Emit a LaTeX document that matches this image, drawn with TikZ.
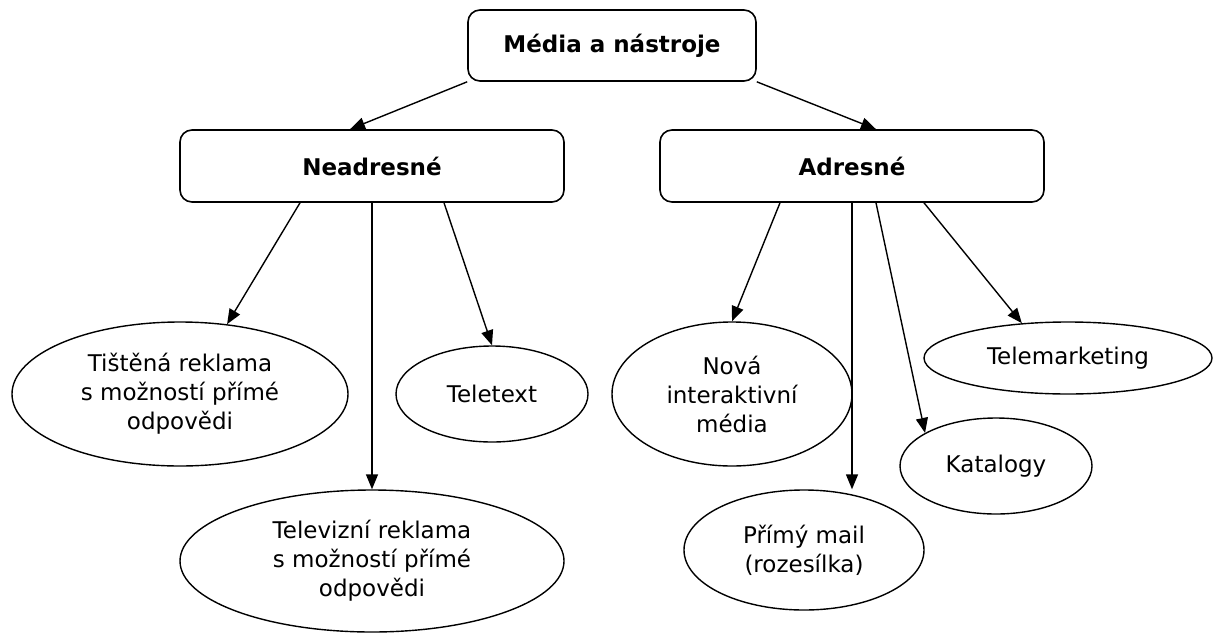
\documentclass[tikz,border=0pt]{standalone}
\usepackage{fontspec}
\setmainfont{DejaVu Sans}
\usetikzlibrary{arrows.meta,shapes.geometric}

\begin{document}
\begin{tikzpicture}[x=1pt,y=-1pt,
  every node/.style={inner sep=0pt,font=\fontsize{23}{29}\selectfont,align=center},
  box/.style={draw,line width=1.6pt,rounded corners=12pt,font=\fontsize{23}{29}\selectfont\bfseries},
  oval/.style={draw,ellipse,line width=1.4pt},
  link/.style={line width=1.4pt,-{Triangle[length=15pt,width=12pt]}}]
\useasboundingbox (0,0) rectangle (1215,632);
\node [box,minimum width=288pt,minimum height=71pt] (root) at (612,45.5) {Média a nástroje};
\node [box,minimum width=384pt,minimum height=72pt] (nead) at (372,166) {Neadresné};
\node [box,minimum width=384pt,minimum height=72pt] (adr) at (852,166) {Adresné};
\node [oval,minimum width=336pt,minimum height=144pt] (tisk) at (180,394) {Tištěná reklama\\s možností přímé\\odpovědi};
\node [oval,minimum width=192pt,minimum height=96pt] (ttx) at (492,394) {Teletext};
\node [oval,minimum width=384pt,minimum height=142pt] (tv) at (372,561) {Televizní reklama\\s možností přímé\\odpovědi};
\node [oval,minimum width=240pt,minimum height=144pt] (nova) at (732,394) {Nová\\interaktivní\\média};
\node [oval,minimum width=288pt,minimum height=72pt] (tmk) at (1068,358) {Telemarketing};
\node [oval,minimum width=192pt,minimum height=96pt] (kat) at (996,466) {Katalogy};
\node [oval,minimum width=240pt,minimum height=120pt] (mail) at (804,550) {Přímý mail\\(rozesílka)};
\draw [link] (root.south west) -- ([xshift=-22pt]nead.north);
\draw [link] (root.south east) -- ([xshift=24pt]adr.north);
\draw [link] ([xshift=-72pt]nead.south) -- (tisk.56);
\draw [link] (nead.south) -- (tv.north);
\draw [link] ([xshift=72pt]nead.south) -- (ttx.north);
\draw [link] ([xshift=-72pt]adr.south) -- (nova.north);
\draw [link] (adr.south) -- (adr.south |- mail.north);
\draw [link] ([xshift=24pt]adr.south) -- (kat.155);
\draw [link] ([xshift=72pt]adr.south) -- (tmk.143);
\end{tikzpicture}
\end{document}
